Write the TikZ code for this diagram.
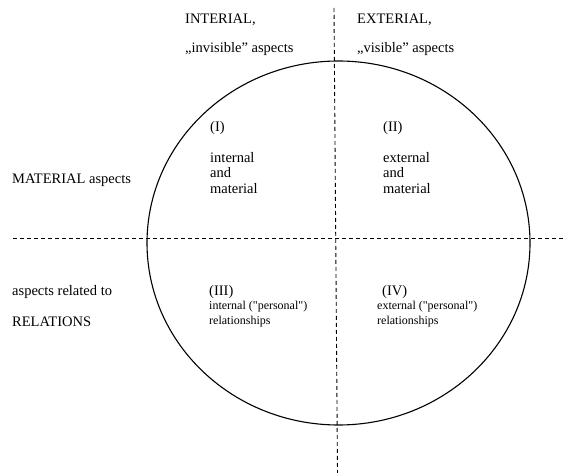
\documentclass[tikz,border=0pt]{standalone}
\usepackage{fontspec}
\setmainfont{Liberation Serif}
\newfontfamily\rawserif{Liberation Serif}[Ligatures=TeXOff]
\begin{document}
\begin{tikzpicture}[x=1pt,y=-1pt,
  big/.style={anchor=west,inner sep=0pt,font=\fontsize{14.5}{15.5}\selectfont,align=left},
  small/.style={anchor=west,inner sep=0pt,font=\rawserif\fontsize{12}{15}\selectfont,align=left},
  divider/.style={draw,line width=0.9pt,dash pattern=on 4pt off 3pt}]
\useasboundingbox (0,0) rectangle (565,473);
% circle
\draw[line width=1.1pt] (338.5,243) ellipse [x radius=191.5, y radius=182];
% dividers
\coordinate (vt) at (334,8);
\coordinate (vb) at (337.5,473);
\coordinate (hl) at (13,238);
\coordinate (hr) at (565,238);
\draw[divider] (vt) -- (vb);
\draw[divider] (hl) -- (hr);
% headings
\node[big] (int) at (185,20) {INTERIAL,};
\node[big] (inv) at (185,49) {„invisible” aspects};
\node[big] (ext) at (357,20) {EXTERIAL,};
\node[big] (vis) at (357,49) {„visible” aspects};
\node[big] (mat) at (12,180) {MATERIAL aspects};
\node[big] (rel1) at (12,292) {aspects related to};
\node[big] (rel2) at (12,322) {RELATIONS};
% quadrants
\node[big] (q1) at (210,128) {(I)};
\node[big,anchor=north west] (q1t) at (210,152) {internal\\and\\material};
\node[big] (q2) at (383,128) {(II)};
\node[big,anchor=north west] (q2t) at (383,152) {external\\and\\material};
\node[big] (q3) at (209,292) {(III)};
\node[small,anchor=north west] (q3t) at (209,301) {internal ("personal")\\relationships};
\node[big] (q4) at (382,292) {(IV)};
\node[small,anchor=north west] (q4t) at (377,301) {external ("personal")\\relationships};
\end{tikzpicture}
\end{document}
